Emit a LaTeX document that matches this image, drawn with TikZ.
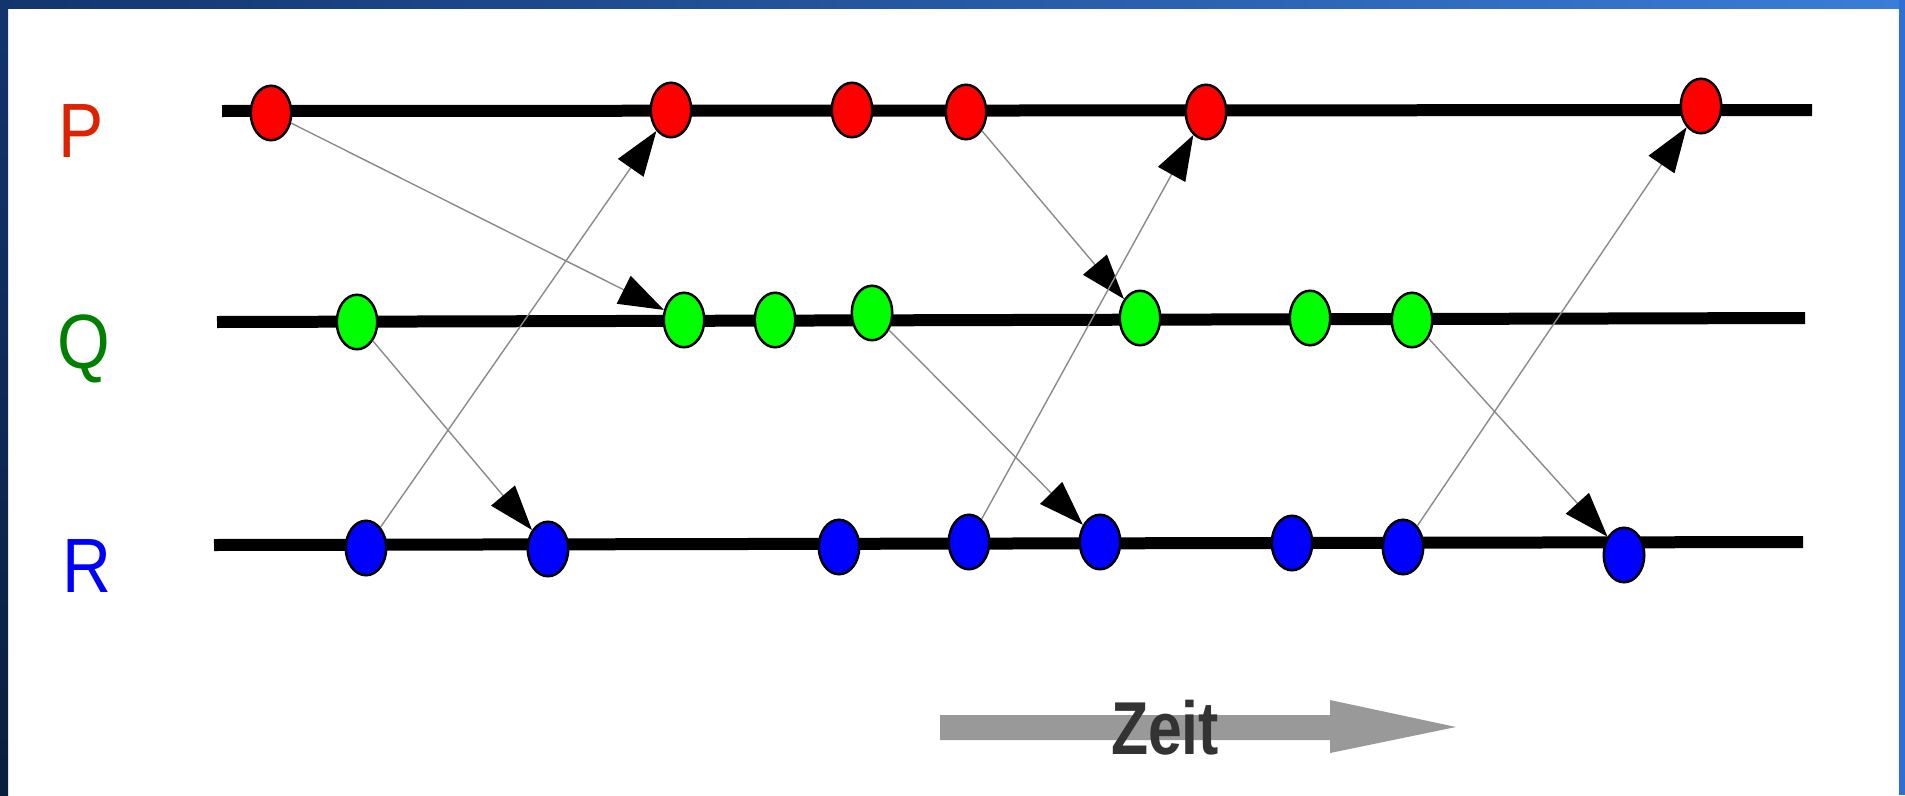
\documentclass[tikz,border=0pt]{standalone}
\usepackage{fontspec}
\setmainfont{Liberation Sans}
\usetikzlibrary{arrows.meta,shapes.geometric}
\definecolor{framedark}{HTML}{12356E}
\definecolor{framelight}{HTML}{3A7DD8}
\definecolor{frameleftbot}{HTML}{0A1E3E}
\definecolor{frameright}{HTML}{2E6FD6}
\definecolor{plabel}{HTML}{DD2200}
\definecolor{qlabel}{HTML}{008000}
\definecolor{rlabel}{HTML}{0000FF}
\definecolor{evred}{HTML}{FF0000}
\definecolor{evgreen}{HTML}{00FF00}
\definecolor{evblue}{HTML}{0000FF}
\definecolor{msggray}{HTML}{8A8A8A}
\definecolor{zeitgray}{HTML}{999999}
\definecolor{zeittext}{HTML}{333333}
\begin{document}
\begin{tikzpicture}[x=1pt,y=-1pt,
  event/.style={ellipse, draw=black, line width=2.5pt, minimum width=40.5pt,
                minimum height=54.5pt, inner sep=0pt},
  pev/.style={event, fill=evred},
  qev/.style={event, fill=evgreen},
  rev/.style={event, fill=evblue},
  timeline/.style={draw=black, line width=12pt},
  msg/.style={draw=msggray, line width=1.4pt,
              -{Triangle[length=45pt,width=31pt,color=black]}},
  proclabel/.style={anchor=base, inner sep=0pt,
                    font=\fontsize{77pt}{80pt}\selectfont},
  zeitlabel/.style={anchor=base, inner sep=0pt, text=zeittext,
                    font=\fontsize{75pt}{78pt}\selectfont\bfseries}
]
% canvas and frame
\fill[white] (0,0) rectangle (1905,795);
\useasboundingbox (0,0) rectangle (1905,795);
\shade[left color=framedark, right color=framelight] (0,0) rectangle (1905,8);
\shade[top color=framedark, bottom color=frameleftbot] (0,0) rectangle (8,795);
\fill[frameright] (1899,0) rectangle (1905,795);

% process labels
\node[proclabel, text=plabel] (lp) at (81,157) {\scalebox{0.88}[1]{P}};
\node[proclabel, text=qlabel] (lq) at (84,368) {\scalebox{0.88}[1]{Q}};
\node[proclabel, text=rlabel] (lr) at (87,592) {\scalebox{0.88}[1]{R}};

% time lines
\coordinate (pa) at (222,111);
\coordinate (pb) at (1812,110);
\coordinate (qa) at (217,322);
\coordinate (qb) at (1805,318);
\coordinate (ra) at (214,545);
\coordinate (rb) at (1803,542);
\draw[timeline] (pa) -- (pb);
\draw[timeline] (qa) -- (qb);
\draw[timeline] (ra) -- (rb);

% events
\node[pev] (p1) at (271,113) {};
\node[pev] (p2) at (671,110) {};
\node[pev] (p3) at (852,110) {};
\node[pev] (p4) at (966,112) {};
\node[pev] (p5) at (1206,112) {};
\node[pev] (p6) at (1701,106) {};

\node[qev] (q1) at (357,322) {};
\node[qev] (q2) at (684,320) {};
\node[qev] (q3) at (775,320) {};
\node[qev] (q4) at (872,313) {};
\node[qev] (q5) at (1140,318) {};
\node[qev] (q6) at (1310,318) {};
\node[qev] (q7) at (1412,320) {};

\node[rev] (r1) at (366,548) {};
\node[rev] (r2) at (548,549) {};
\node[rev] (r3) at (839,547) {};
\node[rev] (r4) at (969,542) {};
\node[rev] (r5) at (1100,542) {};
\node[rev] (r6) at (1292,543) {};
\node[rev] (r7) at (1403,547) {};
\node[rev] (r8) at (1624,555) {};

% messages
\draw[msg] (p1) -- (q2);
\draw[msg] (r1) -- (p2);
\draw[msg] (q1) -- (r2);
\draw[msg] (p4) -- (q5);
\draw[msg] (r4) -- (p5);
\draw[msg] (q4) -- (r5);
\draw[msg] (r7) -- (p6);
\draw[msg] (q7) -- (r8);

% time arrow
\coordinate (za) at (940,715);
\coordinate (zb) at (1330,715);
\coordinate (zc) at (1330,700);
\coordinate (zt) at (1456,727);
\coordinate (zd) at (1330,753);
\coordinate (ze) at (1330,740);
\coordinate (zf) at (940,740);
\fill[zeitgray] (za) -- (zb) -- (zc) -- (zt) -- (zd) -- (ze) -- (zf) -- cycle;
\node[zeitlabel] (zeit) at (1165,754) {\scalebox{0.81}[1]{Zeit}};
\end{tikzpicture}
\end{document}
